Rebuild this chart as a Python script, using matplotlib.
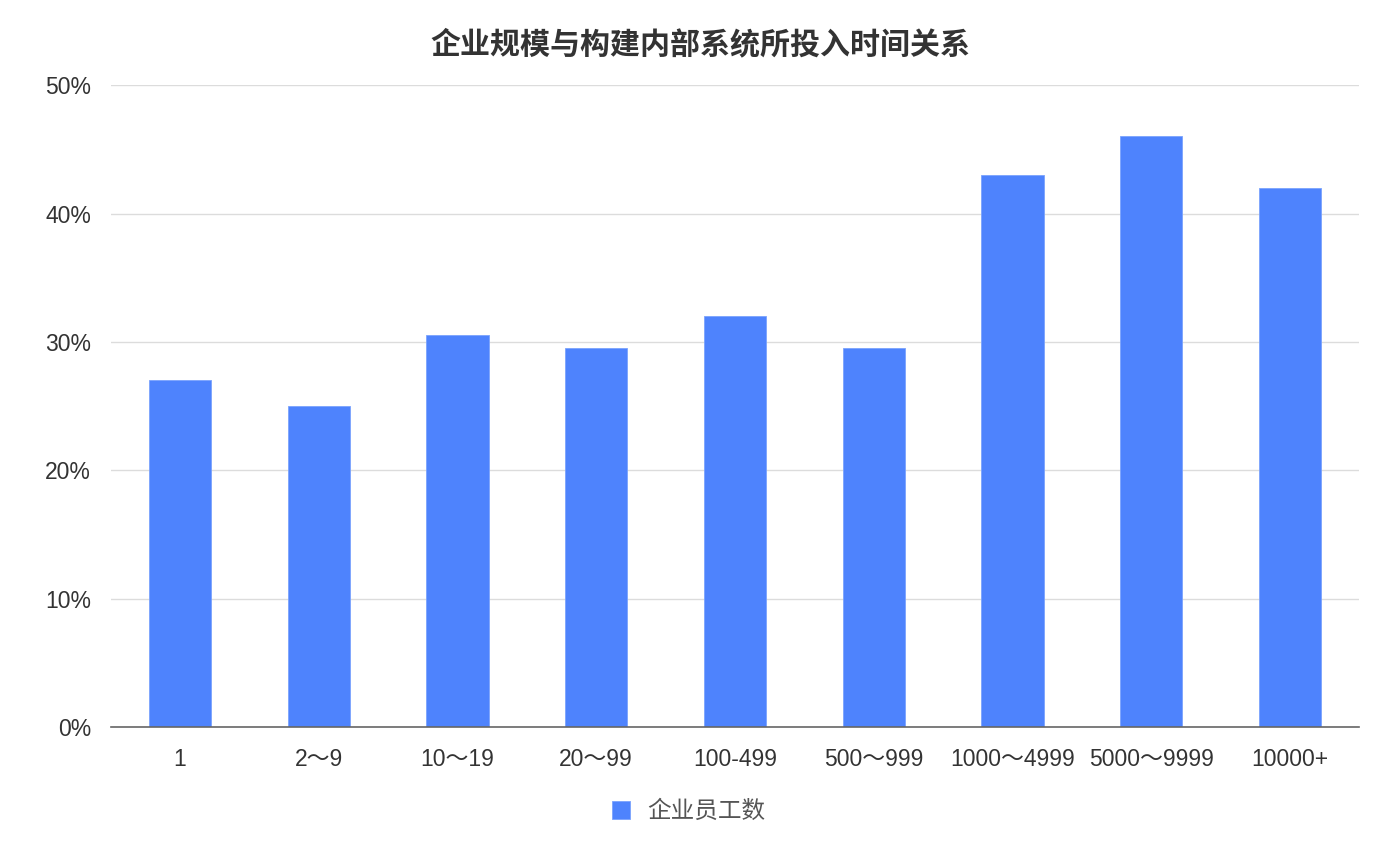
import matplotlib
matplotlib.use('Agg')
import matplotlib.pyplot as plt
from matplotlib.ticker import FuncFormatter

plt.rcParams['font.family'] = ['Liberation Sans', 'Noto Sans CJK SC', 'DejaVu Sans']

# 数据
categories = ['1', '2～9', '10～19', '20～99', '100-499', '500～999', '1000～4999', '5000～9999', '10000+']
values = [27.0, 25.0, 30.5, 29.5, 32.0, 29.5, 43.0, 46.0, 42.0]
yticks = [0, 10, 20, 30, 40, 50]

bar_color = '#4E83FD'

fig = plt.figure(figsize=(14, 8.6), dpi=100)
ax = fig.add_axes([0.079, 0.1547, 0.892, 0.7463])

ax.bar(range(len(categories)), values, width=0.45, color=bar_color,
       edgecolor='#7AA3FD', linewidth=0.6, label='企业员工数', zorder=3)

ax.set_xlim(-0.5, len(categories) - 0.5)
ax.set_ylim(0, 50)
ax.set_yticks(yticks)
ax.yaxis.set_major_formatter(FuncFormatter(lambda v, p: f'{v:.0f}%'))
ax.set_xticks(range(len(categories)))
ax.set_xticklabels(categories)

ax.grid(axis='y', color='#dcdcdc', linewidth=1, zorder=0)
ax.tick_params(axis='both', length=0, labelsize=16.5, colors='#333333')
ax.tick_params(axis='x', pad=15)
ax.tick_params(axis='y', pad=14)
for s in ['top', 'right', 'left']:
    ax.spines[s].set_visible(False)
ax.spines['bottom'].set_color('#666666')
ax.spines['bottom'].set_linewidth(1.2)
ax.spines['bottom'].set_zorder(4)

fig.text(0.5, 0.948, '企业规模与构建内部系统所投入时间关系', fontsize=21.6, fontweight='bold',
         color='#333333', ha='center', va='center',
         family=['Noto Sans CJK SC', 'DejaVu Sans'])

leg = fig.legend(loc='center', bbox_to_anchor=(0.492, 0.056), frameon=False,
                 prop={'family': ['Noto Sans CJK SC', 'DejaVu Sans'], 'size': 17},
                 handlelength=0.76, handleheight=0.76, handletextpad=0.76)
for t in leg.get_texts():
    t.set_color('#555555')

fig.savefig('out.png', dpi=100)
